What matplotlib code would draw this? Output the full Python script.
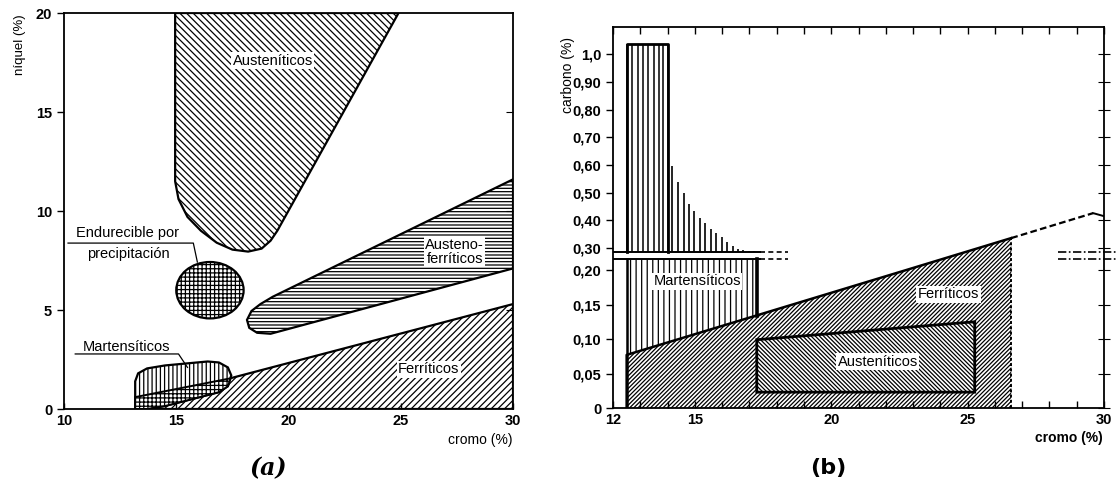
import matplotlib.pyplot as plt
import numpy as np
from matplotlib.patches import Ellipse

plt.rcParams['font.family'] = ['Liberation Sans', 'DejaVu Sans']
plt.rcParams['hatch.linewidth'] = 0.9

# ---- panel (a): niquel vs cromo ----
aus_a_x = [14.95, 14.95, 15.1, 15.5, 16.1, 16.8, 17.5, 18.2, 18.8, 19.2, 19.5, 24.9]
aus_a_y = [20, 11.5, 10.6, 9.7, 9.0, 8.4, 8.05, 7.95, 8.1, 8.5, 9.0, 20]

af_x = [30, 19.3, 18.75, 18.35, 18.15, 18.25, 18.6, 19.2, 30]
af_y = [11.6, 5.67, 5.3, 4.95, 4.5, 4.1, 3.85, 3.8, 7.1]

fer_a_x = [13.2, 13.2, 17.4, 30, 30]
fer_a_y = [0, 0.6, 1.55, 5.3, 0]

mar_a_x = [13.17, 13.17, 13.3, 13.7, 14.5, 16.4, 16.9, 17.3, 17.45, 17.3, 16.9, 14.5, 13.7]
mar_a_y = [0, 1.4, 1.8, 2.05, 2.2, 2.4, 2.35, 2.1, 1.7, 1.15, 0.85, 0.15, 0]
mcross_x = [13.17, 13.17, 17.42, 17.3, 16.9, 14.5, 13.7]
mcross_y = [0, 0.6, 1.55, 1.15, 0.85, 0.15, 0]

prec_center = (16.5, 6.0)
prec_w, prec_h = 3.0, 2.85

# ---- panel (b): carbono vs cromo ----
fer_b_x = [12.5, 12.5, 22.75, 25.4, 26.6, 26.6]
fer_b_y = [0, 0.077, 0.20, 0.30, 0.336, 0]
fer_ext_x = [26.6, 29.6]
fer_ext_y = [0.336, 0.426]
aus_b_x = [17.27, 17.27, 25.26, 25.26]
aus_b_y = [0.023, 0.099, 0.125, 0.023]

rect_x = [12.5, 12.7, 12.9, 13.1, 13.3, 13.5, 13.7, 13.85, 14.0]
rect_lo, rect_hi = 0.282, 1.036
step_x = [14.16, 14.38, 14.6, 14.78, 14.97, 15.19, 15.37, 15.59, 15.77, 15.99,
          16.18, 16.4, 16.58, 16.78, 16.98, 17.18]
step_top = [0.596, 0.538, 0.498, 0.46, 0.434, 0.41, 0.39, 0.37, 0.355, 0.34,
            0.322, 0.307, 0.297, 0.29, 0.287, 0.285]
low_x = [12.5, 12.5, 17.27, 17.27]
low_y = [0.077, 0.25, 0.25, 0.134]
brk_lo, brk_hi = 0.25, 0.282

yt_b = [0, 0.05, 0.10, 0.15, 0.20, 0.30, 0.40, 0.50, 0.60, 0.70, 0.80, 0.90, 1.0]
yl_b = ['0', '0,05', '0,10', '0,15', '0,20', '0,30', '0,40', '0,50', '0,60',
        '0,70', '0,80', '0,90', '1,0']


def fwd(v):
    v = np.asarray(v, float)
    return np.where(v <= 0.2, v * 690, np.where(v <= 0.3, 138 + (v - 0.2) * 220,
                                                 160 + (v - 0.3) * 277))


def inv(f):
    f = np.asarray(f, float)
    return np.where(f <= 138, f / 690, np.where(f <= 160, 0.2 + (f - 138) / 220,
                                                 0.3 + (f - 160) / 277))


box = dict(facecolor='white', edgecolor='none', pad=1.0)
tickfont = dict(fontsize=10.5, fontweight='bold')
lab = 10.5

fig = plt.figure(figsize=(11.17, 4.91), dpi=100)

# ===== (a) =====
ax = fig.add_axes([0.0573, 0.167, 0.402, 0.8065])
ax.set_xlim(10, 30)
ax.set_ylim(0, 20)

ax.fill(aus_a_x, aus_a_y, facecolor='white', edgecolor='black', hatch='\\' * 5, lw=1.6)
ax.fill(af_x, af_y, facecolor='white', edgecolor='black', hatch='-' * 5, lw=1.6)
ax.fill(fer_a_x, fer_a_y, facecolor='white', edgecolor='black', hatch='/' * 5, lw=1.6)
ax.fill(mar_a_x, mar_a_y, facecolor='white', edgecolor='black', hatch='|' * 4, lw=1.6)
ax.fill(mcross_x, mcross_y, facecolor='white', edgecolor='black', hatch='+' * 4, lw=1.4)
ax.add_patch(Ellipse(prec_center, prec_w, prec_h, facecolor='white',
                     edgecolor='black', hatch='+' * 4, lw=1.6))

ax.text(19.3, 17.6, 'Austeníticos', ha='center', va='center', fontsize=lab, bbox=box)
ax.text(27.4, 7.95, 'Austeno-\nferríticos', ha='center', va='center', fontsize=lab,
        linespacing=1.0, bbox=box)
ax.text(26.25, 2.0, 'Ferríticos', ha='center', va='center', fontsize=lab, bbox=box)

ax.text(12.85, 8.9, 'Endurecible por', ha='center', va='center', fontsize=lab)
ax.text(12.85, 7.85, 'precipitación', ha='center', va='center', fontsize=lab)
ax.plot([10.18, 15.76, 15.94], [8.38, 8.38, 7.42], color='black', lw=0.9)
ax.text(12.8, 3.13, 'Martensíticos', ha='center', va='center', fontsize=lab)
ax.plot([10.5, 15.1, 15.5], [2.78, 2.78, 2.1], color='black', lw=0.9)

ax.set_xticks([10, 15, 20, 25, 30])
ax.set_yticks([0, 5, 10, 15, 20])
ax.set_xticklabels(['10', '15', '20', '25', '30'], **tickfont)
ax.set_yticklabels(['0', '5', '10', '15', '20'], **tickfont)
ax.tick_params(axis='x', direction='in', length=4, width=1)
ax.tick_params(axis='y', direction='out', length=5, width=1)
for s in ax.spines.values():
    s.set_linewidth(1.3)
axr = ax.twinx()
axr.set_ylim(0, 20)
axr.set_yticks([5, 10, 15])
axr.tick_params(direction='in', length=5, labelright=False)
for s in axr.spines.values():
    s.set_visible(False)

fig.text(20 / 1117, 1 - 45 / 491, 'níquel (%)', rotation=90, ha='center', va='center',
         fontsize=9.5)
fig.text(513 / 1117, 1 - 440 / 491, 'cromo (%)', ha='right', va='center', fontsize=10)
fig.text(268 / 1117, 1 - 468 / 491, '(a)', ha='center', va='center', fontsize=17,
         family='DejaVu Serif', style='italic', fontweight='bold')

# ===== (b) =====
bx = fig.add_axes([0.5488, 0.169, 0.4396, 0.776])
bx.set_yscale('function', functions=(fwd, inv))
bx.set_xlim(12, 30)
bx.set_ylim(0, 1.098)

bx.fill(fer_b_x, fer_b_y, facecolor='white', edgecolor='black', hatch='/' * 8, lw=0)
bx.plot(fer_b_x[:5], fer_b_y[:5], color='black', lw=1.8)
bx.plot([26.6, 26.6], [0, 0.336], color='black', lw=1.4, ls=(0, (1.5, 1.2)))
bx.plot(fer_ext_x, fer_ext_y, color='black', lw=1.6, ls=(0, (3, 1.5)))
bx.plot([29.6, 30.0], [0.426, 0.415], color='black', lw=1.4)
bx.fill(aus_b_x, aus_b_y, facecolor='white', edgecolor='black', hatch='\\' * 8, lw=2.0)

# martensitic region
bx.fill(low_x, low_y, facecolor='white', edgecolor='black', hatch='|' * 3, lw=0)
bx.plot([12.5, 12.5], [0, 0.25], color='black', lw=1.8)
bx.plot([17.27, 17.27], [0.134, 0.25], color='black', lw=2.6)
bx.vlines(rect_x, rect_lo, rect_hi, color='black', lw=1.1)
bx.plot([12.5, 12.5, 14.0, 14.0], [rect_lo, rect_hi, rect_hi, rect_lo], color='black', lw=2.0)
bx.vlines(step_x, rect_lo, step_top, color='black', lw=1.2)

# axis break marks
for yb in (brk_lo, brk_hi):
    bx.plot([12.0, 17.4], [yb, yb], color='black', lw=1.4)
    bx.plot([17.4, 18.4], [yb, yb], color='black', lw=1.2, ls=(0, (3, 2)))
    bx.plot([28.3, 30.5], [yb, yb], color='black', lw=1.2, ls=(0, (5, 1.5, 1, 1.5)),
            clip_on=False)

bx.text(15.08, 0.184, 'Martensíticos', ha='center', va='center', fontsize=lab, bbox=box)
bx.text(24.3, 0.165, 'Ferríticos', ha='center', va='center', fontsize=lab, bbox=box)
bx.text(21.7, 0.067, 'Austeníticos', ha='center', va='center', fontsize=lab, bbox=box)

bx.set_xticks([12, 15, 20, 25, 30])
bx.set_xticklabels(['12', '15', '20', '25', '30'], **tickfont)
bx.set_xticks(list(range(12, 31)), minor=True)
bx.set_yticks(yt_b)
bx.set_yticklabels(yl_b, **tickfont)
bx.yaxis.set_minor_locator(plt.NullLocator())
bx.tick_params(axis='x', which='both', direction='in', top=True, length=5, width=1)
bx.tick_params(axis='y', direction='out', length=5, width=1)
for s in bx.spines.values():
    s.set_linewidth(1.3)
bxr = bx.twinx()
bxr.set_yscale('function', functions=(fwd, inv))
bxr.set_ylim(0, 1.098)
bxr.set_yticks(yt_b)
bxr.yaxis.set_minor_locator(plt.NullLocator())
bxr.tick_params(direction='inout', length=8, labelright=False)
for s in bxr.spines.values():
    s.set_visible(False)

fig.text(568 / 1117, 1 - 75 / 491, 'carbono (%)', rotation=90, ha='center', va='center',
         fontsize=10)
fig.text(1103 / 1117, 1 - 438 / 491, 'cromo (%)', ha='right', va='center', fontsize=10,
         fontweight='bold')
fig.text(828 / 1117, 1 - 468 / 491, '(b)', ha='center', va='center', fontsize=16,
         family='DejaVu Sans', fontweight='bold')

fig.savefig('out.png', dpi=100)
